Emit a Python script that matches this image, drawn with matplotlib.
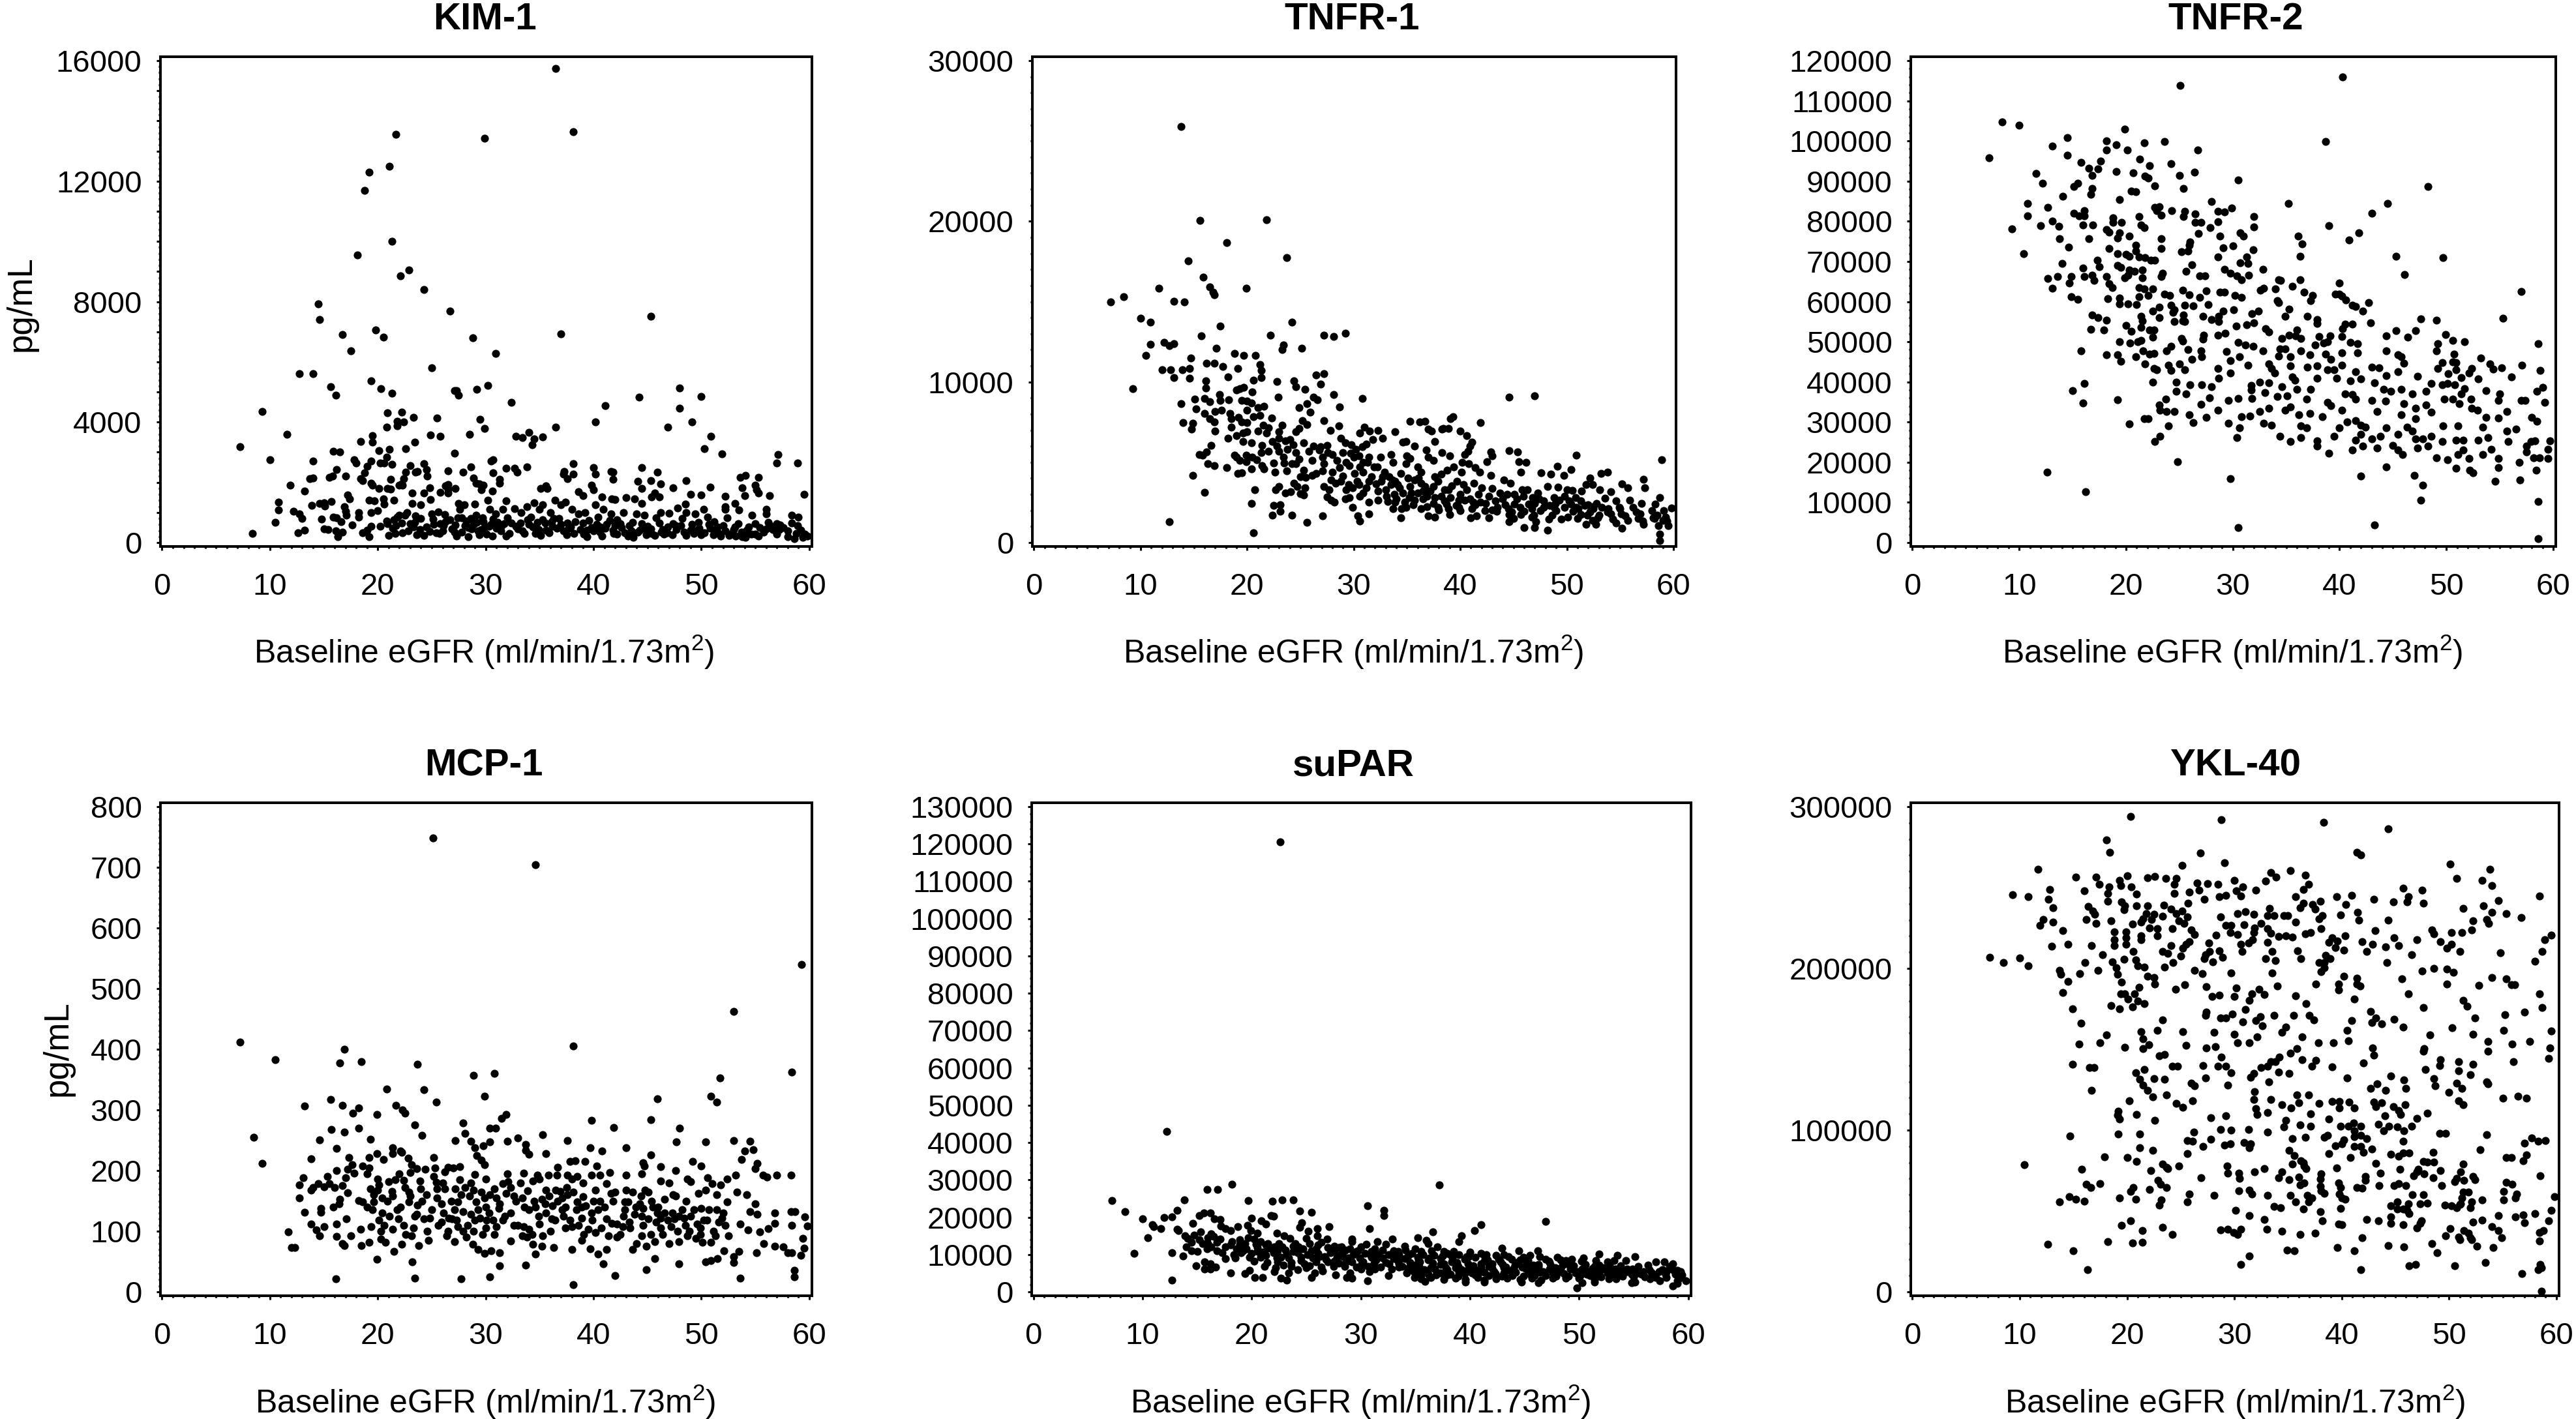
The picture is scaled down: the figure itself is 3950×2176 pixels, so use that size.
#!/usr/bin/env python3

import numpy as np
from matplotlib import pyplot as plt
from matplotlib.ticker import MultipleLocator

plt.rcParams['font.family'] = ['Liberation Sans', 'DejaVu Sans']
plt.rcParams['mathtext.default'] = 'regular'

W, H = 3950, 2176

# points: (baseline eGFR, pg/mL)
kim_1 = [
    (36.5,15750),(38.1,13650),(21.7,13550),(29.9,13430),(21.1,12500),(19.2,12300),(18.8,11690),(21.3,10000),
    (18.1,9550),(22.9,9050),(22.1,8850),(24.3,8410),(14.5,7930),(14.6,7410),(26.7,7690),(45.3,7520),(19.8,7050),
    (16.7,6900),(20.5,6830),(37,6930),(28.8,6800),(17.5,6370),(30.9,6280),(25,5800),(12.7,5610),(14,5610),
    (19.4,5360),(15.6,5170),(20.3,5110),(30.2,5220),(48,5130),(27.1,5050),(29.2,5080),(27.3,5050),(21.3,4950),
    (16.1,4900),(27.5,4900),(44.2,4820),(50,4850),(32.4,4660),(41.1,4550),(9.3,4350),(20.9,4310),(22.2,4340),
    (48,4450),(23.3,4160),(25.5,4130),(29.5,4090),(21.8,4030),(22.4,4000),(40.2,4010),(49.1,4010),(21.8,3880),
    (20.8,3840),(36.5,3840),(29.9,3790),(46.9,3840),(7.2,3180),(11.6,3600),(19.5,3550),(24.9,3570),(25.8,3530),
    (28.5,3600),(32.8,3520),(33.4,3490),(34,3650),(34.5,3440),(34.3,3240),(35.3,3500),(50.9,3530),(18.4,3350),
    (19.5,3330),(23.4,3330),(50.3,3120),(15.9,3030),(16.5,3000),(20.1,3050),(21.1,3090),(22.6,3110),(27.1,2970),
    (51.9,2940),(57.1,2920),(10,2740),(14,2700),(17.8,2740),(18,2640),(19.4,2710),(20.2,2640),(20.6,2640),
    (21.3,2590),(20.8,2830),(23,2550),(24.3,2610),(24.5,2420),(26.5,2390),(27.9,2340),(28.6,2520),(30.5,2700),
    (30.7,2740),(30.7,2310),(31.9,2460),(32.7,2460),(32.9,2330),(33.8,2520),(38.1,2610),(40,2490),(37.3,2360),
    (37.2,2270),(38.1,2270),(37.6,2120),(40.2,2270),(41.6,2360),(41.8,2340),(41.8,2090),(44.5,2480),(45.9,2330),
    (44.1,2040),(45.3,2050),(46.2,1950),(53.6,2170),(54.1,2230),(55.3,2170),(57,2650),(58.9,2650),(48.6,2050),
    (59.5,1600),(16.2,2420),(14,2150),(13.7,2120),(15.5,2170),(15.8,2200),(17,2200),(19,2530),(18.8,2310),
    (18.4,2120),(18.6,2050),(19.4,1980),(21.2,2110),(22.4,2120),(22.2,1950),(22.6,2330),(23.5,2340),(23.7,2370),
    (24.6,2200),(11.9,1900),(13.2,1710),(19.5,1900),(20.1,1800),(20.9,1800),(22.3,1900),(22,1900),(24.8,1820),
    (26.3,1880),(25.8,1670),(26.5,1930),(27.2,1790),(28.9,2150),(29.1,1980),(29.4,1950),(29.8,1900),(29.6,1760),
    (30.6,1710),(31.3,2110),(31.3,1960),(35.1,1790),(35.6,1880),(35.7,1790),(38.6,1680),(39,1550),(39.8,1900),
    (40,1750),(40.8,1510),(41.7,1450),(42,1430),(43,1500),(43.8,1450),(44.5,1800),(44.5,1300),(45.7,1650),
    (45.4,1520),(46.1,1520),(47.4,1810),(48.5,1280),(49,1600),(50,1580),(50.8,1850),(52.2,1530),(53.8,1820),
    (54,1550),(55,1900),(55.1,1750),(55.3,1650),(56.3,1550),(53.1,1300),(52.2,1200),(52.2,1100),(53.5,1080),
    (54.7,920),(56,1100),(56,950),(58.4,900),(59,850),(58.4,650),(57,620),(57.3,590),(8.4,300),(10.5,680),
    (10.8,1350),(10.8,1080),(12.2,1050),(12.7,950),(13,800),(13.2,420),(12.6,320),(13.9,1240),(14.6,1290),(15,1310),
    (15.1,1210),(14.8,780),(15,450),(15.4,430),(15.7,1370),(15.9,850),(16.2,820),(16.1,380),(16.3,200),(16.7,350),
    (16.6,700),(16.9,1200),(17,1050),(17.1,900),(17.2,1580),(17.4,1450),(17.6,580),(18.2,1000),(18.2,850),(18.6,320),
    (19,420),(19.2,200),(19.4,550),(19.4,1000),(19.2,1400),(19.7,1380),(20,1060),(20.2,540),(20.5,1450),(20.6,1270),
    (20.8,720),(20.9,620),(21,240),(21.2,1780),(21.5,1400),(21.5,750),(21.8,850),(21.6,300),(22,900),(22.2,640),
    (22.5,910),(22.8,400),(22.7,1000),(23.2,1650),(23.2,1300),(23.4,680),(23.5,880),(23.6,270),(24,1260),(24.3,1650),
    (24,800),(24.5,510),(24.9,1430),(25,950),(25.2,600),(25.4,330),(25.6,1020),(25.8,620),(26.2,940),(26,400),
    (26.5,1780),(26.5,1650),(26.7,750),(27.2,580),(27.3,210),(27.5,1300),(27.6,1100),(27.8,820),(28,1250),(28.1,560),
    (28.4,200),(28.6,800),(28.7,450),(29,1280),(29.1,920),(29.2,670),(29.4,250),(29.7,830),(29.9,500),(30.2,1400),
    (30.4,1100),(30.5,600),(30.6,210),(30.9,950),(31.1,680),(31.4,380),(31.6,1100),(31.9,1380),(32,820),(32.2,300),
    (32.7,1130),(32.8,540),(33.3,1000),(33.4,400),(33.8,1180),(34,600),(34.2,850),(34.5,1330),(34.6,300),(35,1100),
    (35.3,1250),(35.3,750),(35.6,420),(36,1000),(36.2,550),(36.4,1400),(36.8,800),(37,1250),(37.2,380),(37.4,1350),
    (37.6,650),(38,1100),(38.2,300),(38.6,950),(39,650),(39.2,1000),(39.4,200),(39.8,500),(40.2,1250),(40.4,850),
    (40.6,350),(40.9,1100),(41.2,600),(41.6,950),(41.9,300),(42.2,750),(42.6,500),(42.8,1000),(43.2,220),(43.6,680),
    (44,950),(44.3,420),(44.7,900),(45,550),(45.4,300),(45.8,820),(46.2,1000),(46.4,430),(46.8,320),(47,980),
    (47.4,620),(47.8,1150),(48.2,800),(48.4,350),(48.6,1000),(49,420),(49.4,950),(49.7,680),(50,250),(50.2,1100),
    (50.6,850),(50.8,480),(51.2,700),(51.6,300),(52,560),(52.4,820),(52.6,240),(53,430),(53.4,620),(53.8,200),
    (54.2,420),(54.6,280),(55,620),(55.4,500),(55.8,350),(56.2,680),(56.6,430),(57,280),(57.6,500),(58,380),
    (58.6,120),(58.8,300),(59.2,420),(59.4,180),(59.8,220),
]

# the crowded strip along the bottom of KIM-1
kim_1_low = [
    (21.4,480),(22.3,330),(23,620),(23.9,430),(24.3,230),(25.1,780),(25.7,310),(26.3,700),(26.9,460),(27.4,830),
    (27.8,350),(28.2,720),(28.9,600),(29.3,380),(29.8,700),(30.1,280),(30.7,770),(31,470),(31.5,560),(31.9,220),
    (32.4,660),(33,450),(33.6,300),(33.9,760),(34.4,520),(34.8,680),(35.1,230),(35.5,640),(35.9,330),(36.3,800),
    (36.6,470),(37,610),(37.5,260),(37.9,520),(38.3,700),(38.8,430),(39.1,280),(39.6,740),(40,380),(40.3,600),
    (40.8,220),(41.1,480),(41.5,730),(41.8,420),(42.2,280),(42.5,620),(42.9,330),(43.3,560),(43.7,180),(44.1,340),
    (44.5,620),(44.9,260),(45.3,450),(45.7,230),(46.1,640),(46.5,280),(46.9,520),(47.3,260),(47.7,430),(48.1,560),
    (48.6,240),(49.1,610),(49.3,300),(49.8,470),(50.3,330),(50.7,600),(51.1,250),(51.5,510),(51.8,210),(52.2,400),
    (52.8,300),(53.2,220),(53.7,340),(54.1,180),(54.4,530),(55,280),(55.3,210),(56,460),(56.4,560),(57.2,430),(58,200),
    (58.9,560),(59.6,290),(21.7,560),(23.3,510),(24.8,360),(26.1,560),(27.1,340),(28.4,500),(29.6,430),(30.3,540),
    (31.7,620),(33.2,640),(34.9,430),(36.1,700),(37.7,470),(39.4,420),(40.6,520),(42,560),(43.5,400),(44.8,470),
    (46.3,350),(47.6,560),(49.5,380),(51.4,420),(53.1,520),
]

tnfr_1 = [
    (13.8,25880),(15.6,20050),(21.8,20110),(18.1,18680),(23.7,17720),(14.5,17550),(15.9,16510),(16.5,15930),
    (19.9,15850),(11.7,15820),(16.8,15600),(16.9,15440),(8.4,15300),(7.2,14970),(13.1,15030),(14.1,15000),
    (10,13950),(10.9,13730),(24.2,13730),(17.5,13460),(15.7,12860),(22.2,12910),(27.2,12910),(28.1,12830),
    (29.2,13050),(10.9,12360),(12.2,12470),(12.7,12280),(13.1,12390),(23.4,12310),(23.3,12030),(25.1,12110),
    (17.1,12110),(10.5,11670),(14.7,11480),(18.8,11780),(19.7,11650),(20.8,11670),(16.2,11150),(16.9,11180),
    (17.7,10960),(19.1,10850),(21.2,11100),(12,10770),(12.8,10770),(13.9,10770),(14.6,10850),(21.3,10710),
    (26.5,10440),(27.2,10520),(13.1,10270),(14.6,10220),(18.2,10300),(21.3,10270),(20.6,10110),(16.1,10080),
    (24.4,10080),(22.8,10030),(24.6,9700),(26.9,9860),(9.3,9590),(16.1,9610),(19.7,9670),(25.4,9560),(28.1,9230),
    (30.8,8960),(44.6,9040),(47,9150),(19,9500),(19.3,9600),(20.5,9380),(17.4,9230),(15.1,8950),(16,8980),(13.8,8640),
    (16.5,8750),(17.5,8850),(18.3,8900),(19.5,8850),(20,8800),(20.4,8700),(22.9,9050),(25.6,8650),(26.2,9050),
    (26.6,8900),(28.7,8450),(15.2,8340),(16,8050),(17,8150),(17.6,8250),(18.4,8050),(20,8250),(21,8400),(21.6,8500),
    (24.9,8400),(25.9,8100),(19.2,7800),(20.6,7850),(21.2,7900),(22.3,7750),(16.5,7700),(16.9,7500),(14,7450),
    (14.9,7430),(18.5,7700),(19.5,7500),(20,7450),(21.5,7300),(22,7150),(23.3,7300),(25.2,7600),(25.6,7350),
    (27.2,7600),(28.6,7250),(35.3,7540),(36.2,7500),(36.7,7550),(39.1,7700),(39.3,7850),(41.9,7450),(14.8,7060),
    (17,6950),(18.5,7200),(19.6,6800),(20,6900),(21,6950),(21.8,6800),(23,6900),(24.6,6900),(24.9,7100),(27.8,7000),
    (30.6,6800),(31,7200),(31.5,6950),(32.3,7000),(33.9,6900),(37,7050),(37.3,6950),(38.3,7050),(38.4,7100),
    (38.9,7100),(40,6950),(40.6,6650),(18.2,6500),(19,6650),(19.6,6300),(20.4,6200),(21.4,6050),(22.4,6300),(23,6500),
    (23.6,6350),(24.3,6100),(25.3,6200),(26.2,6000),(26.9,5950),(27.5,6050),(28.8,6500),(29.2,6200),(29.8,6100),
    (30.2,5800),(30.8,5950),(31.2,6150),(31.8,6400),(32.7,6500),(34.6,6250),(34.9,6300),(35.7,6000),(36.8,5750),
    (37.6,6300),(40.9,6000),(41.1,6250),(16.6,6050),(16.2,5650),(15.5,5500),(15.8,5450),(18.8,5450),(19,5300),
    (19.9,5450),(20.5,5300),(21.3,5600),(22,5700),(23,5700),(23.8,5800),(24.6,5600),(26.8,5750),(27.6,5600),
    (28,5500),(29,5600),(29.7,5550),(30.5,5400),(31.4,5300),(32.5,5300),(33.5,5500),(35,5400),(35.3,5250),(36,4700),
    (37,5300),(37.5,5100),(38.3,5600),(39,5400),(40.4,5500),(40.7,5700),(42.9,5650),(43,5400),(44.6,5730),(45.4,5650),
    (50.9,5450),(58.9,5170),(16.3,4900),(16.9,4800),(18.1,4650),(19.3,5100),(19.9,5050),(20.9,5150),(21.4,4800),
    (22.5,4950),(23.5,4950),(24.6,4900),(26.1,5100),(27.2,4900),(28.7,4650),(29.6,4800),(30.6,4700),(31.3,5000),
    (32.2,4700),(33.7,5000),(34.9,4900),(36.3,4400),(38.8,4500),(39.4,4700),(40.2,5000),(40.8,4900),(41.4,4650),
    (42.5,5050),(45.5,5050),(46.2,5000),(49.1,4750),(50.4,4550),(19.1,4300),(19.5,4350),(20.4,4600),(21.6,4600),
    (22.6,4400),(23.7,4450),(25,4100),(25.5,4050),(26.1,4200),(27.1,4450),(28,4400),(29,4150),(30.1,4300),(30.9,4400),
    (31.7,4100),(32.7,4100),(33.6,3900),(35.1,4000),(36.1,4000),(37.6,4100),(38.2,4250),(40.1,4400),(41.8,4400),
    (42.9,4200),(45.7,4400),(47.6,4350),(48.5,4250),(49.7,4200),(52.2,4000),(53.2,4300),(53.8,4400),(57.2,3950),
    (14.9,4180),(22.7,3300),(23,3500),(23.6,3100),(24.4,3700),(24.7,3500),(25.4,3400),(27.2,3500),(27.7,3300),
    (28.8,3800),(29.5,3600),(30.5,3600),(31.4,3800),(32.1,3650),(33.5,3600),(34.1,3600),(35.3,3500),(36.3,3700),
    (37.5,3500),(38.5,3300),(39.2,3550),(40.3,3600),(41.3,3700),(42,3400),(43,3350),(44.1,3900),(44.7,3700),(45.8,3300),
    (46.3,3300),(47.3,3100),(48.2,3500),(49.2,3450),(50,3300),(50.5,3250),(51.4,3200),(51.8,3600),(52.4,3600),(53.1,3300),
    (54.1,3150),(55.2,3650),(55.7,3400),(57.3,3430),(16,3120),(20.7,3300),(24.1,3180),(25,3050),(25.3,2950),(27.5,2850),
    (27.9,2650),(28.2,2500),(29.2,2700),(29.6,2800),(30.6,2900),(31.4,2500),(32.3,2650),(33.2,2550),(34,2700),(34.8,2500),
    (35.6,2350),(36.5,2700),(37.5,2450),(38.5,2600),(39.6,2300),(40.4,2650),(41.4,2350),(42.4,2450),(43.3,2600),(44.2,2350),
    (45.3,2700),(46.4,2400),(47.4,2700),(48.4,2300),(49.3,2650),(50.4,2400),(51.3,2600),(52,2350),(52.8,2450),(53.6,2750),
    (54.6,2600),(55.9,2650),(57,2450),(58.3,2400),(58.7,2800),(20.4,2450),(22.5,2300),(23.1,2370),(29.9,2200),(31.4,1800),
    (33.7,2100),(34.5,2100),(36.3,2100),(38,2050),(40,2000),(41.5,1650),(43,2050),(44.8,1900),(46,1950),(47.5,2000),
    (49,2000),(50.6,1950),(52.2,1900),(53.8,1900),(55,2100),(56.5,1900),(58,2000),(59.1,2000),(59.8,2150),(22.4,1700),
    (23.1,1950),(24.2,1700),(27.1,1650),(30.4,1650),(34.4,1550),(37,1650),(37.6,1600),(39,1750),(41,1550),(42.7,1550),
    (45,1500),(46.7,1600),(48.3,1450),(49.5,1450),(51,1500),(52.4,1400),(54.3,1450),(55.7,1400),(57.1,1350),(58.2,1500),
    (59.3,1600),(12.7,1310),(25.6,1270),(30.6,1350),(44.6,1290),(47.1,1300),(51.8,1120),(52.7,1150),(54.6,1200),(55.2,900),
    (57.2,1150),(58.6,1050),(59.5,1050),(46,950),(47,940),(48.2,780),(58.7,520),(58.7,130),(20.6,590),
]

# the crowded band of TNFR-1
tnfr_1_band = [
    (22.8,6000),(23.4,5300),(24,6400),(24.9,5200),(25.8,5700),(27.1,5300),(28.4,5100),(29.3,5000),(30,5300),(30.9,5000),
    (31.9,4700),(32.9,4400),(33.3,4100),(33.9,3800),(34.4,4300),(35.7,3900),(36.7,3500),(37.9,3800),(38.9,3300),(39.7,3800),
    (40.6,3300),(41.7,3000),(42.7,2900),(43.7,3100),(44.4,3000),(45.1,3000),(45.9,2900),(46.8,2800),(47.8,2600),(48.8,2800),
    (49.8,2900),(50.8,2800),(51.7,2300),(52.5,2100),(53.3,2200),(54.9,2200),(56.2,2200),(33,3300),(33.8,3000),(34.6,3100),
    (35.2,2800),(36,3100),(36.9,2900),(37.2,3200),(38.2,2900),(39.1,2800),(40,3000),(40.9,2700),(41.9,2500),(43.5,2200),
    (44.5,2100),(45.6,2200),(46.7,2100),(47.8,2200),(48.8,2200),(49.8,2200),(50.9,2200),(51.9,1700),(53,1700),(54.1,1800),
    (55.5,1650),(56.9,1800),(58.5,1700),(59.4,1350),(30.3,3800),(31.2,3400),(32.3,3200),(33.1,2900),(33.9,2500),(34.9,2200),
    (35.7,2650),(36.9,2250),(37.9,2200),(38.9,2100),(39.9,2200),(41.1,2100),(42.3,2000),(43.4,1950),(44.6,1750),(45.7,1750),
    (46.9,1700),(48.6,1700),(50.1,1600),(51.3,1750),(52.9,1550),(24.2,4900),(25.3,4500),(26.5,4300),(27.9,3900),(28.3,3700),
    (29.3,3300),(29.9,3400),(30.9,3100),(32.6,3800),(34.3,3400),(35.4,3100),(36.5,3200),(37.6,2800),(38.7,2400),(39.9,2650),
    (41.2,2500),(44,2700),(45.1,2400),(47,2450),(48.9,2450),(50.2,2600),(51.1,2100),(52.4,2250),(53.9,2100),(55.1,1800),(56.7,1500),
    (58.1,1550),(59,1400),
]

tnfr_2 = [
    (40.3,116000),(25.1,113900),(8.4,104700),(10,104000),(19.9,102900),(14.5,100800),(18.2,100000),(19.1,99100),
    (21.7,99500),(23.6,99800),(38.7,99800),(13.1,98700),(18.2,97700),(20.1,97700),(26.7,97800),(14.5,96500),(7.2,95800),
    (21.3,95400),(17.6,95000),(15.8,94700),(24.2,94400),(22.2,93900),(16.5,93200),(17.4,93000),(19.1,92400),(16.8,91500),
    (20.7,92100),(26.4,92300),(11.6,91900),(25,91400),(21.8,91200),(22.1,90800),(30.5,90300),(12.2,89500),(15.5,89500),
    (15.1,88600),(22.7,88900),(48.3,88600),(25.4,88100),(16.8,88100),(20.5,87600),(20.9,87300),(16.7,86700),(14.1,86200),
    (19.4,85400),(28,85000),(44.5,84500),(10.8,84400),(35.2,84400),(12.7,83500),(22.7,83500),(23.1,83700),(29.9,83300),
    (28.6,82500),(29.2,82300),(22.9,82700),(24.3,82600),(25.5,82500),(16.1,82700),(15.1,82000),(43,82000),(10.8,81400),
    (15.6,81400),(16.1,81400),(23.3,81500),(25.4,81200),(26.5,81800),(32,81200),(21.2,81200),(18.8,80800),(13.1,80100),
    (18.8,79800),(19.6,79800),(26.5,79800),(28.6,79900),(27,79700),(16,79100),(16.9,79100),(21.4,79100),(12,78900),
    (13.7,78700),(39,78900),(32,78600),(21.7,78500),(9.3,78100),(18.2,78000),(27.9,78400),(18.4,77300),(19.4,77200),
    (26.8,76900),(41.8,77200),(30.7,77200),(28.8,76300),(20.3,76300),(19.2,75800),(31,76400),(36.1,76300),(13.8,75700),
    (16.5,75700),(23.3,75600),(40.9,75400),(26,74800),(25.9,74100),(36.5,74300),(18.4,73200),(20.9,74100),(14.6,73500),
    (23.3,73300),(29.1,73400),(30,73900),(25.2,72500),(25.8,72600),(31.9,72900),(10.4,72000),(20.9,72600),(19.2,72000),
    (20,71700),(20.3,71300),(45.3,71300),(49.7,71000),(21.2,71100),(21.8,70900),(28.6,71100),(31.3,71100),(36.3,71300),
    (22.3,70300),(22.7,70300),(17.3,70300),(14,69500),(30.7,69600),(31.4,69500),(17.5,68700),(19.2,69000),(19.5,68600),
    (26.2,69200),(16,68400),(20.3,67900),(20.8,67600),(21.5,67900),(29.2,68100),(25.6,67600),(32.8,68000),(16.8,66500),
    (16.1,66300),(20.2,66500),(26.9,66400),(27.4,66400),(29.8,67000),(30.4,66400),(31.5,66500),(23.4,67000),(23.3,66200),
    (46.1,66800),(12.7,65700),(13.6,66300),(14.9,66200),(18.2,66300),(21.5,65900),(19.9,65900),(30.8,65400),(17,65200),
    (34.3,65400),(34.5,65300),(36.3,65400),(40,64600),(14.7,64700),(18.4,64500),(13.1,63400),(18.7,63500),(35.6,63800),
    (21.2,63500),(21.7,63200),(22.5,63100),(32.9,63300),(32.6,62900),(34,63100),(27.5,62700),(28.8,62400),(29.2,62400),
    (57,62500),(25.3,62900),(36.7,62400),(39.6,61800),(40,61800),(23.6,61900),(22.1,61500),(21.2,61200),(24.1,61500),
    (25.9,61700),(30.2,61500),(14.9,61200),(15.5,60600),(18.3,60800),(19.4,60900),(26.9,61100),(30.8,61100),(37.5,61600),
    (40.2,61300),(40.6,60400),(34.2,60300),(34.3,59800),(37.3,60200),(19.4,59500),(20.2,59500),(21,59300),(24.2,59100),
    (25.5,59100),(26.3,59000),(27.7,59300),(41.2,59100),(42.7,59800),(41.5,58800),(23.1,58600),(24.5,57900),(35.3,58200),
    (29.1,57700),(30.1,57900),(42.2,57600),(22.5,57700),(32.4,57700),(24.4,57400),(31.8,57000),(21.4,56300),(16.8,56600),
    (17.4,56000),(25.4,56700),(27.2,56300),(28.7,56400),(34.9,56400),(37,56400),(55.3,55900),(47.6,55700),(49.1,55400),
    (18.2,55300),(21.5,55200),(23.1,56000),(25.3,55200),(28,55500),(37.9,55500),(37.9,54600),(24.5,55000),(25.5,55000),
    (28.7,55000),(42.9,54700),(32,54700),(41.2,54400),(40.5,54400),(31.3,54200),(20,54100),(21.4,53600),(30.3,53900),
    (40.3,53300),(16.7,53100),(17.9,53000),(20.5,52600),(22.2,53000),(22.6,53000),(36,53000),(45.3,52700),(47.1,52700),
    (33.1,53300),(33.4,52400),(49.9,51800),(35.3,51600),(28.6,51700),(29.3,52100),(27.3,51600),(35.9,51400),(40.2,51300),
    (44.4,51400),(46.4,51200),(22.5,51100),(34.6,50900),(36.4,50800),(38.1,51300),(39.1,51400),(50.6,50300),(25.2,50800),
    (19.4,50000),(20.4,49700),(21.1,50000),(21.4,50300),(27.2,50600),(25.3,50200),(30.5,49900),(51.7,50000),(58.6,49600),
    (38.9,50000),(37.7,49200),(38.5,49700),(41,49900),(41.7,49500),(49.2,49500),(24.2,48900),(31.2,49200),(31.9,48900),
    (15.8,47800),(25.8,48000),(21.6,47800),(27,47800),(49.1,47800),(44.4,47800),(32.8,47700),(34.4,48300),(34.9,48300),
    (29.4,47500),(36.4,47800),(23.8,47800),(22.2,46900),(22.6,47100),(18.2,46700),(19.2,46700),(41.7,47300),(40.2,47300),
    (50.7,47000),(38.7,46900),(45.5,46700),(45.8,46300),(27.1,46200),(20.9,46200),(30.6,46200),(34.3,46400),(35.4,46200),
    (37.2,46700),(26.2,45700),(53.2,45900),(19.5,45200),(29.8,45300),(39.2,45600),(49.6,44800),(50.6,45000),(50.9,44800),
    (54.1,44500),(46,44700),(21.8,44500),(24,44200),(25,44500),(31.4,44100),(33.4,44500),(37,43700),(37.9,44000),(40.2,44200),
    (43,43700),(43.7,43500),(57.1,44100),(55.2,43500),(54.4,43200),(49.2,43400),(52.4,43400),(50.9,43100),(22.6,43400),
    (22.9,43100),(24.2,42900),(25.5,43100),(28.6,43400),(33.6,43400),(35.4,44000),(38.9,43100),(39.5,43100),(58.8,42900),
    (41.5,42600),(45.5,42600),(29.8,42300),(52.1,42300),(50.2,42000),(35.6,41200),(33.9,42300),(44.4,41500),(47.3,41400),
    (56.1,41200),(51.4,41100),(39.7,40900),(53,40700),(28.7,41000),(37.9,40900),(35.8,40400),(22.5,40000),(24.7,39900),
    (16.1,39700),(32.5,40000),(33.4,39800),(43.3,39800),(41,40300),(42,40700),(27.1,39300),(28,38800),(31.7,39200),(26,39300),
    (48.6,39700),(49.6,39300),(50.1,39600),(50.8,39300),(34.6,38800),(59,38700),(58.5,37600),(15,37800),(24.7,37600),
    (25.6,37100),(36,38200),(37.3,38100),(51.7,38400),(53.7,37900),(45.8,38200),(44.1,38200),(44.8,37600),(46.8,37000),
    (48.1,37600),(55,37100),(31.7,38000),(33,37400),(40.5,37000),(41.2,36800),(51.4,37100),(19.2,35600),(23.7,35800),
    (27.8,36000),(29.6,35400),(30.5,35900),(31.8,35900),(34.2,36300),(35.1,36500),(36.9,35700),(41.5,35700),(43,35400),
    (52.3,35700),(49.8,35700),(50.6,35700),(54.9,35400),(57,35400),(57.4,35400),(59.2,34900),(16,34800),(27,34400),(23.1,34300),
    (38.9,34900),(44.3,35200),(48.1,34300),(46,34600),(51.2,34600),(35.4,33800),(33.4,33500),(39.2,34100),(28.6,33000),
    (23.2,33000),(23.8,32700),(24.5,32700),(32.5,32600),(34.9,33000),(40.2,33000),(43.5,32700),(47.1,33500),(52.9,33000),
    (52.4,33500),(48.6,32400),(55.7,32600),(25.9,31900),(36.2,31900),(37.2,32200),(54.9,31000),(53.7,31100),(27.5,31100),
    (21.7,30900),(22.1,30900),(30.8,31300),(31.6,31500),(38.4,31300),(45.8,31900),(58,31100),(58.5,30200),(41.5,30400),
    (42,29300),(47.1,30800),(20.3,29500),(26.3,29900),(29.6,29700),(32.9,29700),(33.6,29200),(36.4,29100),(40.7,30000),
    (49.7,29100),(24,29000),(36.9,28600),(40,28600),(42.4,28800),(44.4,28600),(46.3,28800),(51.1,29100),(53.4,28800),
    (56.5,28300),(30.6,28600),(55.7,27700),(46.8,27800),(42,26900),(43.8,26400),(45.5,26900),(34.4,26500),(36.4,26200),
    (39.5,26400),(30.4,26200),(23.2,26400),(48.6,26400),(53.9,26200),(41.5,25500),(43,25800),(47.1,25800),(47.8,25800),
    (50.9,25500),(51.6,25500),(53,25500),(55.8,25100),(58.3,25300),(59.7,25300),(35.4,25100),(22.7,25200),(37.9,25300),
    (49.6,25100),(57.9,25100),(45,24200),(42.2,24000),(37.9,24000),(47.3,23600),(43.5,23600),(48.3,24000),(57.5,24000),
    (59.5,23300),(41.2,23100),(45.5,23100),(51.6,23100),(54.2,23300),(57.5,22500),(51.1,22000),(39,22300),(45.9,22000),
    (53.4,22000),(49.1,21100),(58.2,21100),(58.7,21100),(59.5,20900),(50.1,20700),(24.8,20200),(52.1,20900),(54.9,20900),
    (56.8,20000),(50.9,18500),(44.4,18800),(54.9,18700),(52.2,18100),(58.4,18000),(12.6,17500),(52.5,17400),(47,16800),
    (42,16500),(29.8,15900),(54.6,15300),(56.9,15600),(47.8,14300),(16.2,12600),(47.6,10500),(58.6,10200),(43.3,4400),
    (30.5,3700),(58.6,1000),
]

mcp_1 = [
    (25.1,748),(34.6,704),(59.3,540),(53,462),(7.2,412),(38.1,405),(16.9,400),(10.5,383),(18.5,380),(16.5,377),(23.7,375),
    (58.4,362),(30.8,360),(28.9,357),(51.7,353),(24.3,333),(20.8,334),(29.9,323),(50.9,323),(15.6,317),(45.9,318),(51.4,313),
    (25.4,313),(16.7,308),(13.2,306),(21.7,308),(18.2,303),(22.3,300),(22.5,295),(17.7,295),(19.9,293),(31.9,293),(31.5,286),
    (39.8,283),(45.3,284),(23.4,275),(27.9,279),(30.9,270),(30.4,270),(41.9,271),(48,270),(18.2,270),(15.7,268),(16.9,263),
    (28.1,261),(8.5,255),(24.1,258),(35.3,259),(33,254),(14.6,251),(19.3,252),(27.2,250),(37.6,250),(28.6,248),(50.4,247),
    (53,249),(54.5,248),(47.7,247),(30.4,247),(32,248),(33.7,243),(29,238),(29.8,241),(16.2,237),(21.4,238),(39.7,238),(43,238),
    (54.8,234),(54,232),(22.1,232),(21.4,228),(22.2,230),(25.2,222),(29.2,225),(33.7,233),(34,227),(35.6,228),(40.8,232),
    (45.3,226),(19.9,228),(19.2,222),(20.5,218),(13.8,219),(17.3,222),(22.8,220),(29.6,217),(37.8,215),(38.3,216),(39.2,215),
    (49.2,215),(53.7,218),(55.2,212),(9.3,212),(17.6,210),(18.6,208),(19.2,204),(23.1,210),(24.4,202),(23.6,203),(25.3,204),
    (26.5,205),(27,204),(27.6,206),(29.9,210),(36.7,205),(40.3,207),(44.6,213),(44.7,208),(46.2,206),(50,208),(55,203),
    (16.2,200),(17.2,202),(17.8,196),(19,195),(22,195),(23,197),(26.2,198),(29,194),(32,195),(33.5,196),(34.8,193),(35.8,193),
    (36.6,192),(37.6,192),(38.5,190),(39.8,192),(40.6,192),(41.5,197),(43,192),(44.5,195),(47.6,200),(48.7,186),(50.6,188),
    (52.4,186),(53.2,192),(55.7,192),(56.1,189),(57,192),(58.3,192),(15.3,190),(13.1,188),(12.7,176),(14,172),(14.5,178),
    (15.5,178),(16.7,175),(17,188),(20,186),(21,182),(22.4,184),(23.9,183),(25.4,181),(26,180),(27.6,185),(28.6,180),(30,186),
    (31.6,178),(33.2,180),(34.4,183),(35,186),(36.5,168),(38,186),(39,180),(41.2,178),(43,168),(44.8,168),(46.2,183),(47,180),
    (49,182),(51,178),(51.8,176),(13.8,168),(15,173),(16,172),(19.3,170),(20,168),(21.3,166),(22.5,172),(24,170),(25.5,170),
    (27.2,170),(28.1,172),(30.8,170),(32.3,172),(33.9,167),(35.2,153),(36.9,166),(37.6,160),(39,157),(40.2,168),(42,165),
    (43.6,165),(44.4,158),(45.1,165),(47.6,158),(50.4,168),(12.7,155),(16.5,153),(17.2,163),(18.2,151),(18.6,148),(19.6,160),
    (20.4,155),(21.4,158),(23,158),(24.5,160),(25.5,155),(26.8,150),(28.5,158),(29.6,165),(31,155),(32.6,158),(33.4,155),
    (34.5,150),(35.9,158),(37.1,155),(38.5,148),(40,150),(41.8,150),(43.2,148),(44.3,145),(46.6,153),(47.4,160),(48.6,150),
    (49.7,162),(51.4,160),(52.4,148),(53.3,165),(54.2,160),(55,145),(13.2,131),(14.7,138),(14.7,131),(15.9,140),(16.4,145),
    (19,140),(19.5,135),(20.4,130),(21.8,135),(22.9,148),(23.7,143),(25,135),(26.1,130),(27.1,135),(27.9,132),(29.3,135),
    (30,140),(31.2,138),(32.3,130),(34.6,140),(35.6,130),(37.4,140),(38.4,135),(39.8,130),(41,140),(42.8,125),(43.8,128),
    (45.5,140),(46.6,130),(48.2,135),(49,125),(50,138),(51.4,135),(52,130),(54.5,132),(55.2,128),(56.8,130),(58.3,132),(58.7,132),
    (13.8,112),(14.3,102),(15,107),(16.2,112),(17.1,120),(17.5,92),(18.4,103),(19.4,107),(20.1,118),(20.6,110),(21.4,103),
    (22.4,110),(23.3,105),(24.3,120),(25.6,110),(26.5,100),(27.4,108),(28.3,110),(29,118),(30,105),(31,108),(33,110),(34,103),
    (35,112),(36,100),(37.4,105),(38.6,110),(39.5,103),(40.7,105),(41.7,113),(42.7,108),(44.6,110),(45.8,115),(47.2,108),
    (48.5,110),(49.6,112),(50.5,118),(51.6,115),(52.2,110),(53.6,112),(54.3,102),(55.4,99),(56.2,104),(56.8,113),(58.4,110),
    (59.6,124),(59.8,109),(11.7,99),(12,73),(12.3,73),(14.6,92),(16.2,91),(16.7,80),(16.9,76),(18.5,76),(19.2,82),(20.3,87),
    (20.7,82),(21.5,67),(22.2,78),(23.1,93),(23.8,76),(24.7,85),(26.4,92),(27.1,83),(28.2,90),(28.8,78),(29.3,70),(29.9,63),
    (30.5,68),(31.3,64),(32.3,84),(33.8,90),(34.4,78),(34.6,62),(35.2,75),(36.3,73),(38,70),(38.9,85),(39.7,71),(40.4,62),
    (41.2,70),(42.2,90),(43.6,70),(44,80),(44.9,75),(45.7,83),(46.4,95),(47,80),(47.9,83),(49.5,88),(50.1,82),(50.9,82),(51.5,55),
    (52.1,68),(53.5,67),(55.1,65),(55.8,80),(56.8,75),(57.6,74),(58,65),(58.4,65),(59.2,60),(59.5,72),(59.4,88),(19.9,54),(23.2,50),
    (31.3,43),(33.7,44),(40.9,46),(44.9,37),(45.7,55),(47.9,46),(50.4,49),(50.9,52),(53,48),(53,58),(58.6,35),(58.6,25),(16.1,22),
    (23.4,23),(27.7,22),(30.4,25),(42,27),(38.1,12),(53.6,23),
]

# the crowded middle of MCP-1
mcp_1_band = [
    (19.6,148),(20.1,176),(20.9,150),(21.6,185),(22.1,140),(22.9,165),(23.4,125),(24.1,150),(24.8,122),(25.2,190),(25.9,145),
    (26.6,122),(27.3,118),(27.7,160),(28.6,128),(29.1,148),(29.5,122),(29.9,155),(30.3,130),(30.7,118),(31.3,145),(31.8,125),
    (32.1,182),(32.8,150),(33.5,108),(34,135),(34.9,125),(35.5,145),(36.1,120),(36.7,150),(37.2,125),(37.8,118),(38.1,165),
    (38.9,122),(39.3,142),(39.9,118),(40.4,135),(41.2,120),(41.6,162),(42.2,112),(42.9,148),(43.4,105),(43.9,140),(44.5,125),
    (45.1,120),(45.4,150),(45.9,130),(46.2,105),(46.9,118),(47.5,120),(47.8,100),(48.4,122),(48.9,100),(49.3,135),(49.9,105),
    (50.2,118),(50.7,135),(51.1,100),(51.9,122),(52.5,92),(20.3,100),(21.1,125),(21.9,120),(22.6,95),(23.6,128),(24.6,100),
    (25.9,115),(26.9,120),(27.9,100),(28.9,100),(29.7,95),(30.1,118),(30.8,95),(31.6,118),(32.6,110),(33.4,93),(34.3,95),
    (35.3,92),(36.4,118),(37.1,135),(38,108),(39.1,95),(40.2,98),(41.4,92),(42.5,95),(43.3,115),(44.5,92),(45.3,95),(46.2,122),
    (47.3,130),(48.7,92),(49.9,95),(51.3,92),(26.2,170),(27.4,148),(28.9,168),(30.4,160),(31.9,162),(33.6,140),(35.6,168),
    (36.2,142),(37.5,172),(38.9,140),(40.6,150),(42.9,135),(44.6,138),(46,140),(47.9,125),
]

supar = [
    (22.6,120500),(12.2,43000),(37.2,28700),(18.2,28800),(15.9,27500),(16.9,27500),(23.8,24700),(22.8,24700),(21.9,24300),
    (13.8,24700),(7.2,24500),(19.7,24400),(8.4,21500),(13.2,21800),(24.4,21700),(25.5,21300),(30.6,23000),(32.1,21800),(32.1,20400),
    (10,19600),(12,20000),(12.7,20100),(15.2,20400),(15.6,21100),(16.2,21100),(16.6,19500),(17.1,19400),(20,19800),(20.9,19100),
    (21.8,20500),(22,20300),(46.9,18900),(10.9,18000),(11,17500),(11.7,17000),(14.6,18300),(17.2,17600),(18.7,17400),(19.6,17800),
    (21.3,18200),(24.6,18600),(24.4,17300),(27.1,17500),(26,16900),(30.8,17000),(41,18000),(40.4,16500),(13.2,16800),(13.3,16400),
    (15.3,16000),(16.3,15500),(17.6,17000),(18.1,16500),(19.9,16500),(20.5,15800),(22.3,15700),(23,15000),(25.2,16200),(26,15000),
    (36.6,16000),(39.2,15000),(13.9,15000),(14.7,15200),(15.2,14000),(10.5,14500),(14.1,14400),(16,14500),(16.5,14800),(17.1,14200),
    (18.9,14000),(19.7,14500),(20.2,14200),(23.5,14300),(25,14400),(26.9,14200),(29.2,14200),(32.9,14200),(35.2,14500),(36,13800),
    (39,13400),(16,13000),(16.8,13300),(18.1,12500),(19.4,13000),(20.8,13500),(21.5,13000),(22.5,13000),(24,13000),(25.3,13000),
    (26.4,13200),(28.2,12000),(29.2,13500),(30.5,12700),(31.5,13500),(32.3,12800),(34,12300),(36.2,13000),(37,12000),(14,12000),
    (14.5,11000),(15.9,11500),(16.8,11000),(17.6,12000),(18.6,11500),(19.5,11500),(20.5,11800),(21.5,11700),(22.8,12000),(23.8,12200),
    (24.7,11500),(25.9,11500),(27,11800),(28,11800),(29,11500),(30,12000),(31.3,11500),(33,11000),(34.1,11200),(35,11500),(36.5,11000),
    (37.6,10900),(38.5,10800),(42.9,11700),(44.5,11000),(46.2,11000),(51.8,10200),(9.2,10300),(12.7,10400),(15,10800),(18.4,10000),
    (19,10500),(20,10300),(21,10700),(22,10500),(23.2,10200),(24.2,10400),(25.1,10000),(26.1,10300),(27.2,10400),(28.2,10200),(29.3,10000),
    (30.4,10300),(31.6,10200),(32.5,9900),(33.5,9900),(34.7,10300),(35.7,10000),(36.7,9700),(37.9,10300),(39,10000),(40,10700),(41,10300),
    (41.5,10000),(42.4,9700),(43.5,9500),(45.5,9800),(46.4,9500),(48,9300),(49.3,8800),(50.4,9000),(53.5,9700),(54.3,8400),(55.1,9400),
    (13.7,9600),(17.6,8900),(18.5,9000),(19.8,9300),(20.8,9300),(22.3,9000),(23.4,9000),(24.5,9200),(25.6,9000),(26.7,9500),(27.8,9200),
    (28.8,9000),(29.9,9000),(31,9300),(32,9000),(33,8900),(34,8900),(35.2,9200),(36.3,9000),(37.3,8900),(38.4,9000),(39.5,8800),(40.5,9200),
    (41.6,8600),(42.6,8800),(43.8,8700),(44.6,8500),(45.3,8300),(47.2,8200),(48.3,8500),(50.2,8200),(51.5,8400),(52.6,8000),(53.2,8400),
    (57,8000),(57.8,8100),(58.6,7600),(15.7,8000),(16.2,7600),(20.2,8200),(21.4,7900),(22.4,8000),(23.6,7800),(24.8,7600),(25.9,8000),(27,8000),
    (28,7700),(29.2,8000),(30.2,8000),(31.2,7700),(32.3,7800),(33.5,7500),(34.5,7800),(35.4,8000),(36.6,7700),(37.6,7500),(38.8,7800),(39.8,7500),
    (41,7600),(42,7600),(43,7400),(44.1,7200),(45.2,7500),(46.3,7400),(47.4,7000),(48.5,7200),(49.5,7000),(50.6,7300),(51.8,7200),(52.8,7100),
    (53.8,7000),(55.4,6900),(56.3,7200),(58.3,6900),(14.9,7000),(16.7,6700),(15.7,6100),(16.2,6200),(21.2,6800),(22.2,6400),(23.6,6800),(25,6500),
    (26.4,6600),(27.5,6800),(28.5,6800),(29.6,6700),(30.7,6800),(31.8,6700),(33.5,6600),(34.3,6300),(35.4,6400),(36.4,6500),(37.8,6400),(38.7,6500),
    (39.9,6300),(41,6400),(42,6300),(43.1,6400),(44,6300),(45.1,6300),(46.2,6100),(47.3,6100),(48.3,6300),(49.2,6200),(50.3,6100),(51.2,6300),(52.3,6100),
    (53.3,6100),(54.4,6100),(56.4,6000),(57.6,6000),(59,5700),(59.3,5500),(18.1,5000),(19.4,4900),(19.8,5700),(22.1,5400),(23.4,5100),(25.8,5000),
    (26.5,5600),(27.7,4600),(29,5000),(30.8,5500),(32.5,4400),(34.2,5000),(35,4900),(36.2,4800),(37.1,5000),(38.2,4800),(39.5,4900),(40.2,5000),
    (41.3,5200),(42.3,4900),(43.1,5000),(44.2,5200),(45.4,4900),(46.4,5200),(47.6,5000),(48.6,4900),(49.7,5000),(50.7,4800),(51.6,5000),(52.6,5000),
    (53.6,4900),(54.8,4800),(55.7,4700),(56.8,4700),(57.9,4700),(58.8,4800),(59.4,4500),(20.3,3900),(21,3800),(22.7,3700),(25.5,3800),(28.7,3900),
    (29.2,3700),(34.9,3900),(35.5,3500),(36.4,3800),(37.6,3400),(38.7,3700),(39.6,3300),(40.7,3800),(41.3,3200),(42.4,3500),(43.4,3600),(44.6,3300),
    (45.7,3700),(46.5,3100),(47.6,3700),(48.8,3600),(50,3700),(51.4,3300),(52.7,3500),(53.4,3500),(54.8,2500),(55.1,2700),(56.5,3500),(57.4,3000),
    (59,3000),(59.8,2900),(12.7,3100),(23.2,3100),(30.6,2900),(35.9,2800),(39.6,2700),(41.3,2700),(44.7,2600),(46.3,2500),(50.3,2400),(51.4,2700),
    (58.6,1600),(59,2200),(49.8,1100),
]

# the crowded band of suPAR
supar_band = [
    (20.5,10900),(21.3,9800),(21.9,11300),(22.7,9300),(23.8,10900),(24.5,8400),(25.5,11000),(26.2,9500),(26.8,8700),(27.6,10900),(28.4,9400),
    (28.9,8400),(29.6,10800),(30.1,7500),(30.9,9800),(31.4,8500),(32,11100),(32.6,7600),(33.1,9400),(33.8,6900),(34.3,9600),(34.8,7100),(35.3,8300),
    (35.8,5900),(36.2,8500),(36.8,6200),(37.3,7400),(37.9,5900),(38.3,8100),(38.9,6800),(39.3,5700),(39.9,9400),(40.3,7000),(40.7,5800),(41.3,8200),
    (41.7,6900),(42.2,5500),(42.8,8100),(43.3,6700),(43.7,5600),(44.3,7900),(44.8,6700),(45.3,5700),(45.8,7100),(46.3,6800),(46.7,5500),(47.3,7800),
    (47.8,6400),(48.2,5400),(48.9,7600),(49.3,6700),(49.9,5500),(50.5,6800),(50.9,5500),(51.4,6900),(51.9,5600),(52.2,6500),(52.8,5500),(53.2,4400),
    (53.9,6200),(54.4,5400),(54.9,6100),(55.4,5100),(55.9,5500),(56.6,5200),(57.3,5400),(58,5500),(58.6,5900),(33.4,8200),(34.8,5600),(35.5,4500),
    (36.9,4500),(37.9,4500),(38.9,4200),(39.2,6000),(40.5,4500),(41.7,4300),(42.9,4200),(43.9,4300),(44.9,4200),(45.9,4300),(46.9,4300),(47.9,4200),
    (49,4200),(50.1,4300),(51,4300),(52,4100),(53,4200),(54,4200),(55,4100),(56,4100),(57,3900),(58,3800),(59.2,3700),(14.5,13300),(15.5,13000),
    (16.3,12000),(17.3,10500),(18.2,13500),(18.9,12800),(19.2,11000),(20.4,12700),(21.3,12600),(22.1,12000),(22.4,11000),(23.1,11200),(24.3,12100),
    (26.1,12500),(27.6,12300),(28.6,11100),(29.7,11000),(31,10800),(32.9,10300),(33.4,10800),(35.5,10900),(37.5,9600),(38.2,9900),(39.7,9500),(41.4,9300),
    (43.1,9900),(44.9,9200),(46.9,8800),(48.8,8300),(30,6200),(31.3,6100),(32.8,6200),(35,5200),(37.3,5100),(39,5300),(41,5500),(43.2,5600),(45.7,5600),
    (47.8,5600),(51.3,5700),(22.9,7100),(24.2,6000),(25.3,7000),(27.6,8200),(28.5,7500),
]

ykl_40 = [
    (20.3,293800),(28.8,292100),(38.3,290200),(44.3,286100),(18.1,279600),(18.4,271700),(26.8,271500),(41.4,271700),(41.8,270100),(29.1,265200),
    (25.1,263800),(50.1,264700),(11.7,261100),(53.8,261100),(15.2,256500),(17.1,256500),(20,257300),(21.9,256200),(22.6,257000),(23.6,255700),
    (24.6,255700),(30,254600),(33.4,259200),(33.9,256500),(35.2,260300),(36.6,257600),(50.7,255700),(53.1,254600),(19.3,254600),(17.4,252100),
    (18.3,250500),(19.4,251100),(20.4,250500),(24.4,252100),(26.5,253000),(27.5,252400),(28.5,252100),(32.9,254000),(36.9,252100),(54,251300),
    (12.8,248600),(16,247800),(45.7,249400),(47.5,248300),(26.7,248300),(30.8,250500),(30.2,248000),(32,248300),(36.4,248900),(9.3,245600),
    (10.8,244300),(18.2,246200),(20.9,245900),(24.4,246400),(25.8,247300),(40.9,245300),(39.5,244300),(58.4,244800),(12.7,242600),(18.2,241500),
    (27.2,242900),(28.6,244300),(29.2,245300),(30.6,244800),(35.7,244500),(43,242600),(46.2,244300),(38,241500),(36.4,240200),(44.8,241000),
    (46.1,241000),(47.6,240200),(54.6,242100),(19.5,241000),(20.9,238800),(21.9,238800),(23.4,239100),(25.7,240200),(53.2,238800),(40.4,239400),
    (13.1,237700),(16.4,238300),(19.8,238800),(36.1,237500),(37.3,239600),(37.5,236600),(51.3,236900),(19.7,236100),(24.1,236600),(25.1,235600),
    (33.3,237200),(41.5,234700),(54,234700),(55.3,233900),(16.8,235600),(17,233400),(21.8,233900),(22.5,233400),(24.6,233900),(30.3,233900),
    (31,235000),(31.8,233400),(33.1,232800),(33.7,232800),(34.6,232800),(35,232800),(38.2,232600),(39.9,233100),(56.7,231500),(12.2,230100),
    (16.2,230100),(21.5,230700),(22.3,230100),(23.3,232300),(25.6,232000),(28.7,232000),(37.9,230700),(44.3,229800),(41.6,229800),(53.5,230400),
    (11.9,226600),(13.1,228800),(17.1,228000),(18.5,229300),(20.5,227400),(21.3,228500),(24.8,229300),(25.3,228000),(35.7,228800),(52.2,229300),
    (53.7,228000),(29.2,226600),(29.7,226600),(30.9,227100),(31.9,225200),(32.5,227700),(33.1,224700),(52.1,223900),(22.1,225200),(22.8,224700),
    (24.2,224700),(14,223300),(18.8,222500),(19.9,222500),(43.1,223300),(48.4,223600),(26,223600),(31.8,222000),(38.1,224400),(48.6,221400),
    (50.2,222000),(51.2,222200),(26.3,221100),(22.8,220300),(28.3,220600),(29.6,222000),(30.3,221100),(33.4,221700),(36.6,221400),(37.1,222000),
    (59.5,220600),(19.9,219000),(21.3,220300),(34.1,219800),(34.8,220300),(35.4,219200),(40.3,220300),(44.9,219000),(47,217900),(18.8,217900),
    (21.3,217600),(39.1,219000),(58.9,217900),(25.8,216500),(31.7,217600),(39.6,217100),(41.9,216500),(49.2,216500),(14.5,214900),(16.7,214300),
    (18.8,214300),(19.9,214900),(24.1,214300),(25.5,214900),(27.6,215700),(30.6,214900),(31.3,215700),(33.1,216200),(38.8,216200),(42.9,214900),
    (44.1,213200),(45.3,214100),(50.2,214900),(13,213800),(39.4,213000),(49.8,212400),(51,210300),(20.6,210500),(25.2,212400),(27.7,210300),
    (28.6,210800),(30.7,210300),(23.3,210500),(23.8,209400),(33.5,210300),(35.9,210800),(40.2,211100),(42.3,210300),(54.8,209700),(58.7,210300),
    (17.7,208400),(27.3,208400),(46.5,208600),(7.2,206700),(10,206400),(25,207500),(27.2,206200),(28.9,207000),(32.9,206200),(36.2,205900),
    (38.5,208100),(38.9,206200),(8.5,203500),(10.8,201600),(16.1,203500),(18.6,204000),(19.7,205600),(20.8,205400),(24.3,203500),(28,204000),
    (33.8,204800),(37.9,203500),(44.2,203500),(58,204500),(21,201800),(38.4,203500),(19,200500),(38.4,200500),(21.6,200700),(23.5,200700),
    (48.6,199900),(49.8,199600),(47.5,198300),(13.7,198600),(26.3,198800),(17.3,198800),(38.1,198000),(50.4,197500),(13.8,196400),(15.6,196900),
    (19.1,196400),(29.7,197200),(33.5,197200),(40.2,195000),(21.9,195000),(22.5,194500),(27,196700),(41.4,193900),(45.6,193700),(54,194500),
    (55.3,193400),(14.5,192000),(19.5,191500),(37.6,190400),(39.7,190400),(41.4,190400),(25.4,189900),(22.6,190400),(49.8,190400),(41.7,189300),
    (52.8,189600),(55.8,189900),(56.1,189900),(34,189000),(21.1,188500),(27.4,188800),(30.2,188000),(32.3,187100),(24.5,187100),(39.7,186600),
    (14,185200),(19.4,184400),(19.8,184400),(20.7,184400),(46.2,184400),(58.4,184400),(32.8,183900),(31.6,184100),(28.6,183600),(27.9,182800),
    (30,182800),(35.7,183100),(20.1,181200),(41.2,180900),(31.4,180100),(51.3,180300),(21,179800),(21.6,178400),(36.7,178400),(18.5,177100),
    (20.5,176300),(51.7,176800),(14.9,175200),(19.3,175200),(47.6,175700),(58.7,175700),(42.7,173500),(31,174400),(27.4,173000),(57,173000),
    (27.3,170800),(29.8,171600),(28.7,169500),(29.2,169500),(33.7,171100),(35.5,171100),(37,171100),(55.2,171400),(32.4,170000),(52.4,169200),
    (43.2,169200),(44.9,168600),(37.4,168100),(23.3,168100),(30.8,167000),(32,167600),(40.9,167600),(42.8,166700),(43.7,165900),(15.7,166200),
    (45.7,163700),(50.3,163200),(32.6,164600),(59.5,161300),(34.8,163700),(22.8,161800),(40.5,161600),(34.4,160500),(55.1,161800),(25.2,160800),
    (21.3,160800),(28.1,160500),(30,159400),(48.2,158800),(18.1,158800),(52.2,159100),(21.5,156400),(36.3,157500),(32.1,157500),(40.6,155300),
    (17.5,154200),(30.3,154200),(31.4,154200),(37.8,154000),(39.2,154000),(53.6,154800),(57.5,155000),(15.5,153400),(55.9,153400),(22,152900),
    (25.5,152600),(59.4,150700),(19.8,151200),(21.5,150400),(27.4,150700),(28.2,151800),(42.9,151000),(35.8,150400),(47.7,150400),(47.6,148800),
    (53.6,148800),(35.2,147700),(23.5,146900),(23,146100),(43,146300),(36.3,143600),(49.2,143600),(59.3,144200),(28.8,145000),(34.2,145000),
    (33.4,142300),(37.6,143100),(33.8,142300),(42,141700),(50.9,142300),(52.2,140900),(49.1,140100),(56,142300),(14.9,140900),(24.7,139500),
    (24.2,139500),(27.1,139800),(28.5,139500),(29.2,139500),(33.1,139500),(37.2,139500),(39.1,139300),(16.5,138700),(16.9,138700),(32.5,138700),
    (21.6,137600),(47.8,137600),(50.9,136800),(20.8,135500),(29.7,135500),(34.1,136000),(31.8,134900),(35.1,134900),(52,134100),(31.5,132700),
    (40.5,132200),(27.3,132200),(22.5,131900),(23.5,131400),(44.6,133600),(45.8,131100),(48.6,131900),(53.5,130000),(33.2,130000),(21.2,131400),
    (26,129200),(43.3,128700),(26.3,127300),(50.7,129200),(29.4,127800),(53.6,128700),(21.5,127800),(42.7,125900),(46,125900),(48.7,127300),
    (51.2,125900),(16.7,124600),(44.1,124600),(21.9,124600),(31.9,123800),(50,123200),(23.7,121900),(36.9,121900),(35.8,121900),(55,119700),
    (56.4,120800),(57.2,119700),(22.4,120500),(31.8,119100),(20.2,118000),(26.1,118000),(33.4,119100),(39.1,117800),(37.9,116400),(39.8,117800),
    (40.7,117200),(43,117200),(43.7,117000),(50.9,118300),(51.3,115600),(24.6,116400),(36,117000),(45.9,115900),(34.4,115900),(43.2,114500),
    (25.2,114200),(35.3,113700),(39.8,113700),(41.2,113700),(32,113200),(44.8,114500),(19.2,111500),(33.1,111000),(45.3,112100),(20.9,109600),
    (48,110400),(19.1,109100),(32.1,109600),(37.1,109900),(45.5,109600),(44,108800),(27.8,107700),(29.2,108800),(19.3,106900),(22.6,106100),
    (34.8,106100),(38.8,106900),(47,107200),(41.1,104400),(36.1,103400),(34.6,102000),(37.1,102500),(39.9,102500),(40.6,102500),(41.8,102500),
    (43.4,103600),(44.4,102500),(45.2,102000),(46.5,102500),(28.7,100600),(29.7,100100),(31.3,100600),(43.9,99600),(45.8,99600),(41.2,99600),
    (33.1,98700),(19.2,97600),(21.2,97600),(26.2,98700),(49.1,97900),(49.7,97900),(53.5,97100),(38.7,96800),(38.4,95700),(41.2,96000),(14.7,96300),
    (41.8,96800),(27.8,94400),(25.6,93600),(26.1,93300),(35.4,94700),(36.6,95700),(40.2,94100),(42.3,94700),(45.7,93300),(57.7,95200),(59,93600),
    (58.3,93000),(57,91900),(29.6,91400),(29.1,90600),(30.9,92500),(31.5,91400),(40,91400),(39.4,90300),(27.1,90000),(41.2,89800),(41.8,89800),
    (21.2,89200),(31.4,89200),(42.8,88400),(22.4,87600),(35.1,87300),(52.9,88100),(42,86200),(48.5,86200),(38.8,85400),(25.6,85400),(44.6,84900),
    (45.7,86000),(46.3,85700),(57.2,84600),(35.6,84300),(17.9,83500),(20,83000),(40.8,83000),(45.3,83800),(55.3,83000),(55.8,83000),(36.2,81100),
    (20.9,80800),(56.9,81100),(47.6,80800),(36.4,79700),(48,80200),(48.6,80200),(43.2,79400),(10.4,78600),(23.3,79200),(35.4,78900),(51.3,78900),
    (24.8,77800),(23.7,77000),(29.3,77800),(36.5,77800),(23.8,76200),(39.5,76700),(36.7,76200),(15.8,75900),(32.8,76200),(45.4,75900),(47.1,75900),
    (22.2,75100),(49.2,74800),(34.4,74300),(47,74300),(51.1,74300),(29.4,73200),(30.4,73200),(31.9,74300),(43.6,73200),(47.7,72900),(38.1,72900),
    (58.5,71800),(46.7,71800),(48.5,70700),(26.9,70700),(42.2,71500),(52.2,71500),(36,71000),(34.1,70400),(30.5,70200),(38,69600),(50.7,70200),
    (42.2,68800),(50.5,68300),(52.4,69400),(35.1,69400),(51.4,68800),(22.9,68800),(55.3,67700),(36.5,67500),(39.7,67500),(45.3,66900),(55.9,66600),
    (17.5,66900),(16.2,66600),(36.1,66100),(49.3,65600),(44.9,65800),(43.5,65800),(23.1,66600),(38,65300),(16.6,64500),(23.7,64700),(39.9,64700),
    (41.4,64500),(41.9,64200),(46,65600),(20.6,64700),(22.1,63400),(31.4,63100),(38.1,62600),(20.3,62000),(30.4,62300),(55.1,62000),(51.3,61500),
    (51.8,61500),(31.6,60400),(39.8,60400),(25.8,60400),(38.4,60700),(56.3,60400),(28.1,59600),(33.1,59800),(35.2,59800),(36.8,59600),(46.6,60100),
    (47.6,60100),(59.8,59000),(14.6,58800),(19.3,57900),(40,57900),(51.2,57900),(15.2,57100),(20.8,57400),(23.2,56800),(37.2,57900),(40.3,57100),
    (53.1,56800),(55.1,56800),(56.2,57900),(13.7,55500),(16,56000),(25.6,55800),(35.7,55800),(36.9,55800),(45.2,55800),(52.1,55800),(51.1,54400),
    (46.2,54400),(23,53600),(33.7,52800),(44.6,53300),(34.3,52200),(47.3,54400),(48,54700),(49.6,53600),(50.2,53300),(51,53900),(50.7,52000),(52,52000),
    (39.9,51700),(45.2,51100),(45.7,51100),(36.4,51100),(46.1,50300),(30.1,50600),(59.5,50300),(38,49500),(46.3,48400),(58,48400),(31.4,47300),
    (56.9,47600),(54.6,47100),(56.2,46500),(38.2,43800),(47.4,43800),(20.3,44100),(32.8,44600),(42.3,44600),(44.6,46200),(53.1,44300),(43.4,44100),
    (52.2,43200),(59.3,43800),(44.6,42400),(45.7,41600),(39.7,41900),(40,41600),(57,42700),(47.3,42400),(19.5,41300),(54,40300),(23.3,40000),(47,39400),
    (50.1,39200),(28.7,38400),(29.4,38900),(30.6,38600),(33,38900),(21.4,38100),(51.4,38100),(54.6,38100),(58.8,38100),(34.4,37300),(58.4,36700),
    (37.5,36400),(29.9,36700),(30.3,35400),(36.1,35400),(51.8,36200),(24.2,35400),(49.7,34500),(50.9,34000),(41.9,33500),(52,33500),(51,32100),(54.9,33500),
    (52.1,32100),(18.2,31000),(20.5,30200),(21.4,30700),(58.4,31600),(12.6,29400),(48.4,29900),(39.6,27500),(44.3,28600),(45.8,28000),(52.6,28300),
    (54.1,27500),(15,25600),(34.9,25800),(35.6,25300),(41.2,25600),(48.9,24200),(31.4,22000),(53.4,18200),(30.6,16900),(46.3,16300),(46.9,17100),
    (50.5,16000),(58.5,17100),(58.6,15000),(58.3,13600),(16.3,13600),(41.8,13600),(56.8,11400),(58.6,500),
]

titles = ['KIM-1', 'TNFR-1', 'TNFR-2', 'MCP-1', 'suPAR', 'YKL-40']
panels = [kim_1 + kim_1_low, tnfr_1 + tnfr_1_band, tnfr_2, mcp_1 + mcp_1_band, supar + supar_band, ykl_40]
y_maxes = [16000, 30000, 120000, 800, 130000, 300000]
y_label_steps = [4000, 10000, 10000, 100, 10000, 100000]
y_major_steps = [1000, 10000, 10000, 100, 10000, 100000]
y_minor_steps = [200, 1000, 2000, 10, 2000, 10000]
x_ticks = [0, 10, 20, 30, 40, 50, 60]
xlabel = 'Baseline eGFR (ml/min/1.73m$^{2}$)'

# frame edges in pixels: left, right, top, bottom
frames = [
    (246, 1245, 87, 838), (1583, 2570, 87, 838), (2930, 3919, 87, 838),
    (246, 1245, 1231, 1987), (1582, 2593, 1231, 1987), (2930, 3924, 1231, 1987),
]
# text centres in pixels
title_pos = [(744, 30), (2073, 30), (3428, 30), (742, 1174), (2075, 1174), (3428, 1174)]
xlabel_pos = [(742, 1000), (2075, 1000), (3423, 1000), (744, 2150), (2086, 2150), (3427, 2150)]
ylabel_pos = {0: (33, 466), 3: (89, 1608)}

fig = plt.figure(figsize=(W / 100, H / 100), dpi=100)


def draw_panel(i):
    left, right, top, bottom = frames[i]
    ax = fig.add_axes([left / W, 1 - bottom / H, (right - left) / W, (bottom - top) / H])

    pts = np.array(panels[i], dtype=float)
    ax.plot(pts[:, 0], pts[:, 1], 'o', color='black', ms=8.8, mew=0, clip_on=False)

    y_max = y_maxes[i]
    margin = 6 / (bottom - top - 12) * y_max
    ax.set_xlim(-0.15, 60.25)
    ax.set_ylim(-margin, y_max + margin)

    ax.set_xticks(x_ticks)
    ax.xaxis.set_minor_locator(MultipleLocator(1))

    majors = list(range(0, y_max + 1, y_major_steps[i]))
    ax.set_yticks(majors)
    ax.set_yticklabels([str(v) if v % y_label_steps[i] == 0 else '' for v in majors])
    ax.yaxis.set_minor_locator(MultipleLocator(y_minor_steps[i]))

    ax.tick_params(axis='both', which='major', length=4.5, width=2.2, labelsize=34)
    ax.tick_params(axis='both', which='minor', length=2.5, width=2.2)
    ax.tick_params(axis='x', which='major', pad=24)
    ax.tick_params(axis='y', which='major', pad=16)

    for spine in ax.spines.values():
        spine.set_linewidth(2.9)

    fig.text(title_pos[i][0] / W, 1 - title_pos[i][1] / H, titles[i], fontsize=42,
             fontweight='bold', ha='center', va='center')
    fig.text(xlabel_pos[i][0] / W, 1 - xlabel_pos[i][1] / H, xlabel, fontsize=36,
             ha='center', va='center')
    if i in ylabel_pos:
        fig.text(ylabel_pos[i][0] / W, 1 - ylabel_pos[i][1] / H, 'pg/mL', fontsize=38,
                 rotation=90, ha='center', va='center')


for i in range(len(panels)):
    draw_panel(i)

fig.savefig('out.png', dpi=100)
